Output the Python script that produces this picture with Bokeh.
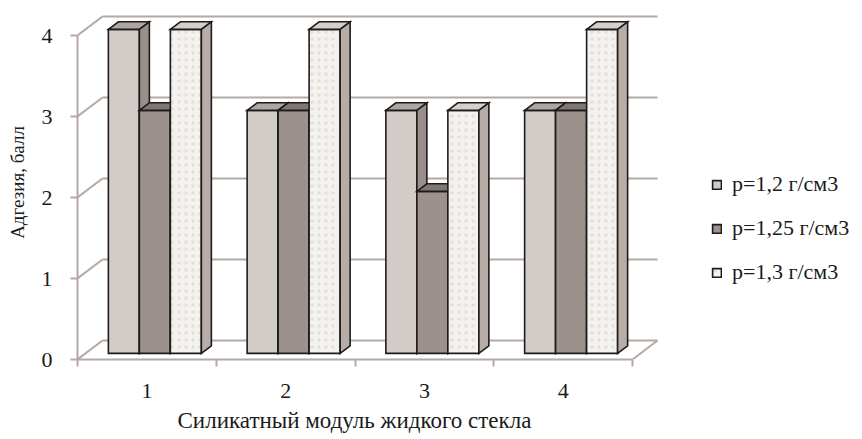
from bokeh.plotting import figure
from bokeh.models import FixedTicker, Legend, LegendItem, Range1d, Title
from bokeh.embed import file_html
from bokeh.resources import INLINE

# ---- data ----
categories = ["1", "2", "3", "4"]
series_names = ["р=1,2 г/см3", "р=1,25 г/см3", "р=1,3 г/см3"]
s1 = [4, 3, 3, 3]
s2 = [3, 3, 2, 3]
s3 = [4, 4, 3, 4]
y_ticks = [0, 1, 2, 3, 4]
x_title = "Силикатный модуль жидкого стекла"
y_title = "Адгезия, балл"

series = [s1, s2, s3]

# ---- styles ----
front_colors = ["#d3cbc8", "#9d918d", "#f3f2ef"]
top_colors = ["#b0a6a1", "#827672", "#d7cfca"]
side_colors = ["#9a8e8a", "#6f6360", "#b7ada6"]
outline = "#1c1c1c"
wall_color = "#b3aaa4"
text_color = "#1a1a1a"
serif = "Liberation Serif"

W, H = 862, 439
B_LEFT, B_RIGHT, B_TOP, B_BOTTOM = 77, 10, 5, 80
PX_X, PX_Y = 138.75, 81.0            # pixels per category / per unit
fw, fh = W - B_LEFT - B_RIGHT, H - B_TOP - B_BOTTOM
n = len(categories)
x_start, x_end = 0.5, n + 0.5
depth_x, depth_y = 25 / PX_X, 19 / PX_Y   # 3-D depth of the floor/walls
bar_w = 31 / PX_X
fx, fy = 0.32 * depth_x, 0.32 * depth_y   # bar front offset
dx, dy = 0.40 * depth_x, 0.40 * depth_y   # bar depth

p = figure(width=W, height=H,
           x_range=Range1d(x_start, x_start + fw / PX_X),
           y_range=Range1d(0, fh / PX_Y),
           output_backend="svg", toolbar_location=None,
           min_border_left=B_LEFT, min_border_right=B_RIGHT,
           min_border_top=B_TOP, min_border_bottom=B_BOTTOM)
p.xgrid.visible = False
p.ygrid.visible = False
p.outline_line_color = None
p.background_fill_color = "white"
p.border_fill_color = "white"

# ---- walls / floor ----
ymax = max(y_ticks)
wx, wy = [], []
for v in y_ticks:
    wx.append([x_start + depth_x, x_end + depth_x]); wy.append([v + depth_y, v + depth_y])
    wx.append([x_start, x_start + depth_x]); wy.append([v, v + depth_y])
wx.append([x_end, x_end + depth_x]); wy.append([0, depth_y])
p.multi_line(wx, wy, line_color=wall_color, line_width=2)

# ---- bars ----
legend_items = []
for s, vals in enumerate(series):
    lefts, rights, bottoms, tops = [], [], [], []
    txs, tys, sxs, sys_ = [], [], [], []
    for c, v in enumerate(vals):
        xc = c + 1
        xl = xc - 1.5 * bar_w + s * bar_w + fx
        xr = xl + bar_w
        yb = fy
        yt = fy + v
        lefts.append(xl); rights.append(xr); bottoms.append(yb); tops.append(yt)
        txs.append([xl, xr, xr + dx, xl + dx]); tys.append([yt, yt, yt + dy, yt + dy])
        sxs.append([xr, xr + dx, xr + dx, xr]); sys_.append([yb, yb + dy, yt + dy, yt])
    extra = {}
    if s == 2:
        extra = dict(hatch_pattern=".", hatch_color="#dcd2ca", hatch_scale=7, hatch_weight=1.2, hatch_alpha=0.6)
    r = p.quad(left=lefts, right=rights, bottom=bottoms, top=tops,
               fill_color=front_colors[s], line_color=outline, line_width=1.6,
               line_join="miter", **extra)
    p.patches(txs, tys, fill_color=top_colors[s], line_color=outline, line_width=1.6, line_join="miter")
    p.patches(sxs, sys_, fill_color=side_colors[s], line_color=outline, line_width=1.6, line_join="miter")
    legend_items.append(LegendItem(label=series_names[s], renderers=[r]))

# ---- axes ----
xa = p.xaxis[0]
xa.ticker = FixedTicker(ticks=[i + 1 for i in range(n)],
                        minor_ticks=[i + 0.5 for i in range(n + 1)])
xa.major_label_overrides = {i + 1: categories[i] for i in range(n)}
xa.bounds = (x_start, x_end)
xa.axis_line_color = wall_color
xa.axis_line_width = 2
xa.major_tick_out = 0
xa.major_tick_in = 0
xa.minor_tick_out = 7
xa.minor_tick_in = 0
xa.minor_tick_line_color = wall_color
xa.minor_tick_line_width = 2
xa.major_label_standoff = 17
xa.major_label_text_font = serif
xa.major_label_text_font_size = "22px"
xa.major_label_text_color = text_color

# x-axis title, centred under the category span
p.add_layout(Title(text=x_title, align="left", offset=100, standoff=11,
                   text_font=serif, text_font_size="23px",
                   text_font_style="normal", text_color=text_color), "below")

ya = p.yaxis[0]
ya.ticker = FixedTicker(ticks=y_ticks, minor_ticks=[])
ya.bounds = (0, ymax)
ya.axis_line_color = wall_color
ya.axis_line_width = 2
ya.major_tick_out = 7
ya.major_tick_in = 0
ya.major_tick_line_color = wall_color
ya.major_tick_line_width = 2
ya.minor_tick_out = 0
ya.minor_tick_in = 0
ya.major_label_standoff = 18
ya.major_label_text_font = serif
ya.major_label_text_font_size = "22px"
ya.major_label_text_color = text_color
ya.axis_label = y_title
ya.axis_label_text_font = serif
ya.axis_label_text_font_size = "19px"
ya.axis_label_text_font_style = "normal"
ya.axis_label_text_color = text_color
ya.axis_label_standoff = 11

# ---- legend ----
legend = Legend(items=legend_items, location=(634, 74),
                glyph_width=11, glyph_height=11, label_height=24,
                label_standoff=10, spacing=18, padding=0, margin=0,
                border_line_alpha=0, background_fill_alpha=0,
                label_text_font=serif, label_text_font_size="22px",
                label_text_color=text_color)
p.add_layout(legend, "center")

open("out.html", "w").write(file_html(p, INLINE))
